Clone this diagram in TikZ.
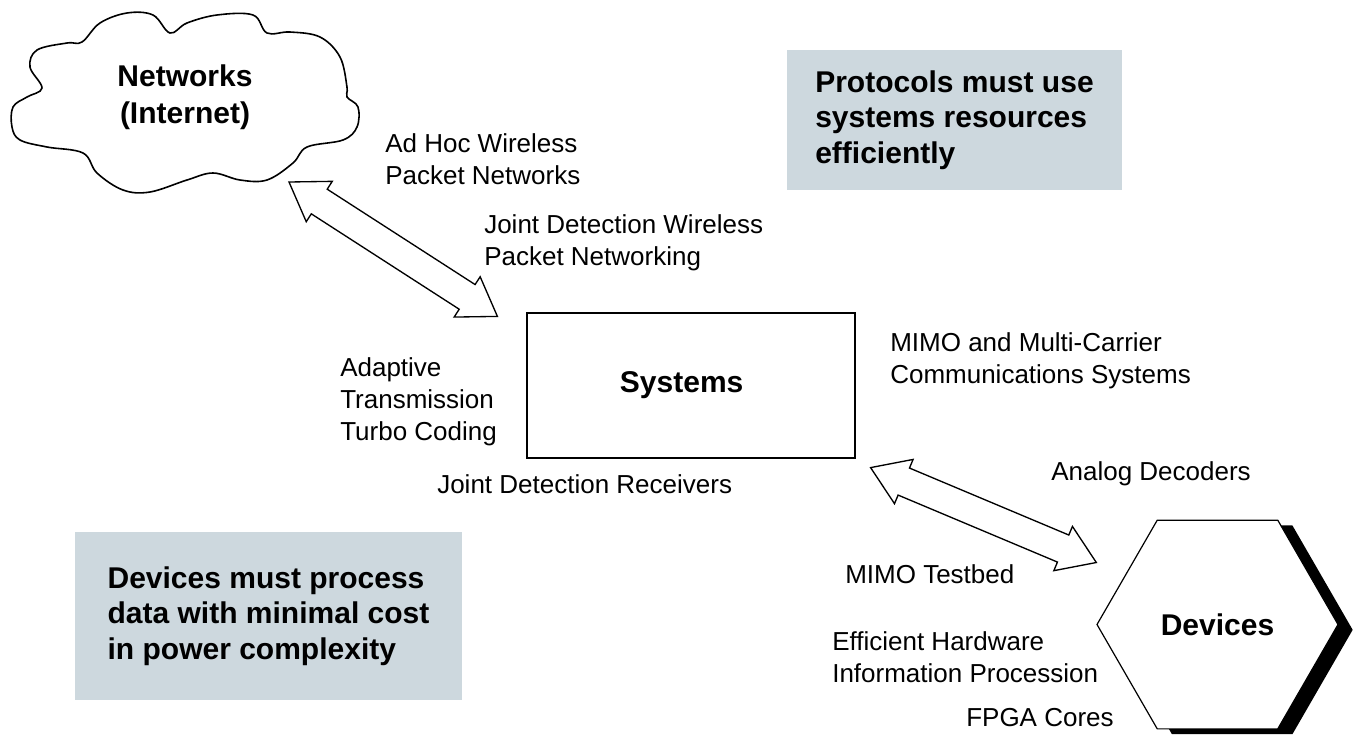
\documentclass[tikz,border=0pt]{standalone}
\usepackage{fontspec}
\setmainfont{Liberation Sans}
\usetikzlibrary{calc}
\usetikzlibrary{shapes.geometric}
\usetikzlibrary{shadows}

\definecolor{notefill}{RGB}{205,216,222}

\tikzset{
  lbl/.style={anchor=west, inner sep=0pt, align=left, font=\fontsize{19.5}{24}\selectfont},
  boldtxt/.style={font=\fontsize{22.5}{26.5}\selectfont\bfseries},
  notebox/.style={boldtxt, fill=notefill, align=left, inner sep=0pt},
  sysbox/.style={boldtxt, draw, line width=0.9pt, minimum width=246pt, minimum height=108.75pt},
  devhex/.style={boldtxt, regular polygon, regular polygon sides=6, minimum size=180.75pt, inner sep=0pt, draw, fill=white, line width=0.9pt, general shadow={fill=black, shadow xshift=11pt, shadow yshift=-4pt}},
  cloudline/.style={line width=1.2pt},
  fatline/.style={draw, fill=white, line width=1pt, line join=miter},
}

% hollow double arrow between two named points
\newcommand{\fatarrow}[2]{%
  \coordinate (fa1) at ($(#1)!27pt!(#2)$);
  \coordinate (fa2) at ($(#2)!27pt!(#1)$);
  \draw [fatline] (#1) -- ($(fa1)!18pt!90:(#2)$) -- ($(fa1)!11pt!90:(#2)$)
    -- ($(fa2)!11pt!-90:(#1)$) -- ($(fa2)!18pt!-90:(#1)$) -- (#2)
    -- ($(fa2)!18pt!90:(#1)$) -- ($(fa2)!11pt!90:(#1)$)
    -- ($(fa1)!11pt!-90:(#2)$) -- ($(fa1)!18pt!-90:(#2)$) -- cycle;}

\begin{document}
\begin{tikzpicture}[x=0.75pt,y=0.75pt,yscale=-1,xscale=1]
    \useasboundingbox (0,0) rectangle (1355,739);

    %Shape: Cloud
    \draw [cloudline] plot [smooth cycle, tension=0.6] coordinates {(42,88) (30,67) (37,50) (67,43) (82,42) (100,23) (127,13) (153,15) (170,33) (187,23) (217,15) (253,15) (267,33) (290,32) (320,37) (340,57) (347,87) (347,97) (358,107) (357,127) (343,140) (307,147) (293,163) (267,180) (240,180) (213,173) (187,180) (150,192) (123,190) (97,173) (83,153) (47,147) (20,140) (12,127) (13,107) (27,97)};
    \node [boldtxt, align=center, font=\fontsize{22.5}{27.75}\selectfont\bfseries] (net) at (185,97) {Networks\\(Internet)};

    %Shape: Rectangle
    \node [sysbox] (sys) at (691,385.5) {\hspace*{-14pt}Systems};

    %Shape: Hexagon
    \node [devhex] (dev) at (1217.5,624.5) {Devices};

    %Shape: Note boxes
    \node [notebox, minimum width=251.25pt, minimum height=105pt] (proto) at (954.5,120) {Protocols must use\\systems resources\\efficiently};
    \node [notebox, minimum width=290.25pt, minimum height=126pt] (cost) at (268.5,616) {Devices must process\\data with minimal cost\\in power complexity};

    % arrow ends
    \coordinate (netEnd) at (289,182);
    \coordinate (sysEndA) at ($(sys.north west)+(-29,4)$);
    \coordinate (sysEndB) at ($(sys.south east)+(15,9)$);
    \coordinate (devEnd) at ($(dev.west)+(0,-62)$);

    %Double Arrows
    \fatarrow{netEnd}{sysEndA}
    \fatarrow{sysEndB}{devEnd}

    % Text Node
    \node [lbl] (adhoc) at (385,159) {Ad Hoc Wireless\\Packet Networks};
    % Text Node
    \node [lbl] (jdwire) at (484,243) {Joint Detection Wireless\\Packet Networking};
    % Text Node
    \node [lbl] (mimo) at (890,361) {MIMO and Multi-Carrier\\Communications Systems};
    % Text Node
    \node [lbl] (adapt) at (340,401.5) {Adaptive\\Transmission\\Turbo Coding};
    % Text Node
    \node [lbl] (jdrecv) at (437,484) {Joint Detection Receivers};
    % Text Node
    \node [lbl] (analog) at (1051,474) {Analog Decoders};
    % Text Node
    \node [lbl] (testbed) at (845,574) {MIMO Testbed};
    % Text Node
    \node [lbl] (hw) at (832,657) {Efficient Hardware\\Information Procession};
    % Text Node
    \node [lbl] (fpga) at (966,718) {FPGA Cores};

\end{tikzpicture}
\end{document}
